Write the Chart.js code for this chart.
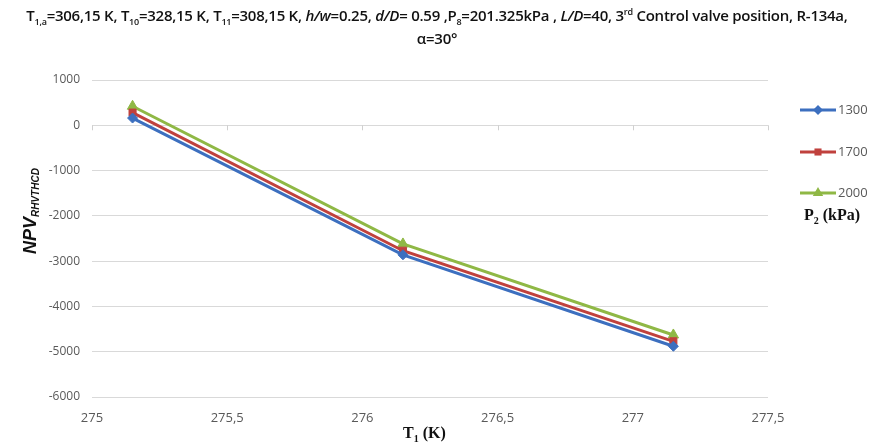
<!DOCTYPE html>
<html>
<head>
<meta charset="utf-8">
<script src="https://cdn.jsdelivr.net/npm/chart.js@4.4.0/dist/chart.umd.min.js"></script>
<style>
  body { margin: 0; background: #fff; }
  #wrap { position: relative; width: 874px; height: 444px; }
  #title { position: absolute; left: 0; top: 4px; width: 874px; text-align: center;
    font-family: "Open Sans", sans-serif; font-weight: 600; font-size: 15px; line-height: 23px; color: #111;
    letter-spacing: -0.25px; white-space: nowrap; }
  #title sub, #title sup { font-size: 9px; line-height: 0; }
</style>
</head>
<body>
<div id="wrap">
  <canvas id="mycanvas" width="874" height="444"></canvas>
  <div id="title">T<sub>1,a</sub>=306,15 K, T<sub>10</sub>=328,15 K, T<sub>11</sub>=308,15 K, <i>h/w</i>=0.25, <i>d/D</i>= 0.59 ,P<sub>8</sub>=201.325kPa , <i>L/D</i>=40, 3<sup>rd</sup> Control valve position, R-134a,<br>α=30°</div>
</div>
<script>
var t1 = [275.15, 276.15, 277.15];
var npv1300 = [160, -2860, -4880];
var npv1700 = [280, -2770, -4770];
var npv2000 = [420, -2620, -4630];
var seriesNames = ['1300', '1700', '2000'];
var colors = ['#3c6fbf', '#c0413d', '#8fb845'];
var markers = ['rectRot', 'rect', 'triangle'];

function pts(ys) {
    var out = [];
    for (var i in ys) out.push({x: t1[i], y: ys[i]});
    return out;
}

var all = [npv1300, npv1700, npv2000];
var datasets = [];
for (var i = 0; i < all.length; i++) {
    datasets.push({
        label: seriesNames[i],
        data: pts(all[i]),
        borderColor: colors[i],
        backgroundColor: colors[i],
        borderWidth: 3,
        pointStyle: markers[i],
        pointRadius: i == 2 ? 6 : 5,
        pointBorderWidth: 1
    });
}

// legend, axis titles and small tick marks on the zero line
var extras = {
    id: 'extras',
    afterDraw: function(chart) {
        var ctx = chart.ctx;
        var xs = chart.scales.x, ys = chart.scales.y;
        ctx.save();
        // tick marks where the x axis crosses at 0
        var y0 = ys.getPixelForValue(0);
        ctx.strokeStyle = '#d0d0d0';
        ctx.lineWidth = 1;
        for (var v = 275; v <= 277.5; v += 0.5) {
            var px = Math.round(xs.getPixelForValue(v)) + 0.5;
            ctx.beginPath(); ctx.moveTo(px, y0); ctx.lineTo(px, y0 + 5); ctx.stroke();
        }
        // legend
        var ly = [110, 152, 193];
        for (var i = 0; i < datasets.length; i++) {
            ctx.strokeStyle = colors[i];
            ctx.lineWidth = 3;
            ctx.beginPath(); ctx.moveTo(800, ly[i]); ctx.lineTo(836, ly[i]); ctx.stroke();
            ctx.fillStyle = colors[i];
            Chart.helpers.drawPoint(ctx, {pointStyle: markers[i], radius: i == 2 ? 6 : 5, borderWidth: 0}, 818, ly[i]);
            ctx.fillStyle = '#595959';
            ctx.font = '13px "Open Sans", sans-serif';
            ctx.textBaseline = 'middle';
            ctx.textAlign = 'left';
            ctx.fillText(seriesNames[i], 838, ly[i]);
        }
        // P2 (kPa)
        ctx.fillStyle = '#111';
        ctx.font = 'bold 16px "Liberation Serif", serif';
        ctx.fillText('P', 804, 216);
        var w = ctx.measureText('P').width;
        ctx.font = 'bold 10px "Liberation Serif", serif';
        ctx.fillText('2', 804 + w, 221);
        var w2 = ctx.measureText('2').width;
        ctx.font = 'bold 16px "Liberation Serif", serif';
        ctx.fillText(' (kPa)', 804 + w + w2, 216);
        // x title
        ctx.textAlign = 'left';
        var xt = 403;
        ctx.fillText('T', xt, 434);
        var a = ctx.measureText('T').width;
        ctx.font = 'bold 10px "Liberation Serif", serif';
        ctx.fillText('1', xt + a, 439);
        var b = ctx.measureText('1').width;
        ctx.font = 'bold 16px "Liberation Serif", serif';
        ctx.fillText(' (K)', xt + a + b, 434);
        // y title
        ctx.translate(30, 254);
        ctx.rotate(-Math.PI / 2);
        ctx.textBaseline = 'alphabetic';
        ctx.font = 'italic bold 18px "Liberation Sans", sans-serif';
        ctx.fillText('NPV', 0, 6);
        var c = ctx.measureText('NPV').width;
        ctx.font = 'italic bold 10px "Liberation Sans", sans-serif';
        ctx.fillText('RHVTHCD', c, 9);
        ctx.restore();
    }
};

var ctx = document.getElementById('mycanvas');
var chart = new Chart(ctx, {
    type: 'scatter',
    data: { datasets: datasets },
    options: {
        responsive: false,
        animation: false,
        showLine: true,
        layout: { padding: { top: 80, right: 106, left: 0, bottom: 0 } },
        plugins: { legend: { display: false }, tooltip: { enabled: false } },
        scales: {
            x: {
                type: 'linear', min: 275, max: 277.5,
                afterFit: function(s) { s.height = 47; },
                border: { display: false },
                grid: { display: false },
                ticks: {
                    stepSize: 0.5, color: '#595959', padding: 5,
                    font: { family: '"Open Sans", sans-serif', size: 13 },
                    callback: function(v) { return String(v).replace('.', ','); }
                }
            },
            y: {
                min: -6000, max: 1000,
                afterFit: function(s) { s.width = 92; },
                border: { display: false },
                grid: { color: '#d9d9d9', drawTicks: false },
                ticks: {
                    stepSize: 1000, color: '#595959', padding: 12,
                    font: { family: '"Open Sans", sans-serif', size: 12 },
                    callback: function(v) { return String(v); }
                }
            }
        }
    },
    plugins: [extras]
});
</script>
</body>
</html>
